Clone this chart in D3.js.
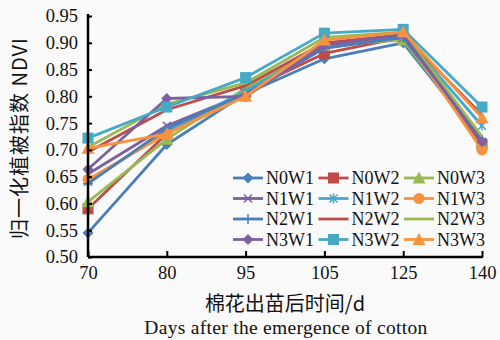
<!DOCTYPE html>
<html>
<head>
<meta charset="utf-8">
<script src="https://cdn.jsdelivr.net/npm/d3@7"></script>
<style>
  body { margin: 0; background: #fff; }
  svg { display: block; }
</style>
</head>
<body>
<svg id="chart" width="500" height="340"></svg>
<script>
// data
const days = ["70", "80", "95", "105", "125", "140"];
const yTicks = [0.50, 0.55, 0.60, 0.65, 0.70, 0.75, 0.80, 0.85, 0.90, 0.95];
const seriesNames = ["N0W1", "N0W2", "N0W3", "N1W1", "N1W2", "N1W3",
                     "N2W1", "N2W2", "N2W3", "N3W1", "N3W2", "N3W3"];
const N0W1 = [0.545, 0.710, 0.805, 0.870, 0.900, 0.715];
const N0W2 = [0.590, 0.730, 0.810, 0.880, 0.910, 0.710];
const N0W3 = [0.603, 0.720, 0.815, 0.895, 0.905, 0.715];
const N1W1 = [0.655, 0.745, 0.805, 0.890, 0.910, 0.715];
const N1W2 = [0.640, 0.735, 0.810, 0.895, 0.915, 0.745];
const N1W3 = [0.645, 0.730, 0.800, 0.895, 0.915, 0.700];
const N2W1 = [0.637, 0.740, 0.805, 0.890, 0.910, 0.720];
const N2W2 = [0.696, 0.775, 0.820, 0.900, 0.915, 0.765];
const N2W3 = [0.705, 0.785, 0.825, 0.910, 0.920, 0.725];
const N3W1 = [0.664, 0.796, 0.800, 0.895, 0.915, 0.715];
const N3W2 = [0.722, 0.780, 0.835, 0.918, 0.925, 0.780];
const N3W3 = [0.703, 0.730, 0.800, 0.905, 0.920, 0.760];
const seriesValues = [N0W1, N0W2, N0W3, N1W1, N1W2, N1W3, N2W1, N2W2, N2W3, N3W1, N3W2, N3W3];

const colors = ["#4a7ebb", "#be4b48", "#98b954", "#7d60a0", "#46aac5", "#f69240",
                "#4a7ebb", "#be4b48", "#98b954", "#7d60a0", "#46aac5", "#f69240"];
const markers = ["diamond", "square", "triangle", "x", "star", "circle",
                 "plus", "none", "none", "diamond", "square", "triangle"];

const SERIF = '"Liberation Serif", "DejaVu Serif", serif';
const CJK = '"Noto Sans CJK SC", sans-serif';

const svg = d3.select("#chart");
svg.append("rect").attr("width", 500).attr("height", 340).attr("fill", "#fafafa");

const x = d3.scalePoint().domain(days).range([88, 482]);
const y = d3.scaleLinear().domain([0.5, 0.95]).range([257, 16]);

// marker drawing
function drawMarker(g, type, cx, cy, color) {
  const s = 5.5;
  if (type === "diamond") {
    g.append("path").attr("d", `M${cx},${cy - s}L${cx + s},${cy}L${cx},${cy + s}L${cx - s},${cy}Z`).attr("fill", color);
  } else if (type === "square") {
    g.append("rect").attr("x", cx - s).attr("y", cy - s).attr("width", 2 * s).attr("height", 2 * s).attr("fill", color);
  } else if (type === "triangle") {
    g.append("path").attr("d", `M${cx},${cy - s - 1}L${cx + s + 1},${cy + s}L${cx - s - 1},${cy + s}Z`).attr("fill", color);
  } else if (type === "circle") {
    g.append("circle").attr("cx", cx).attr("cy", cy).attr("r", s).attr("fill", color);
  } else if (type === "x") {
    g.append("path").attr("d", `M${cx - 4},${cy - 4}L${cx + 4},${cy + 4}M${cx - 4},${cy + 4}L${cx + 4},${cy - 4}`)
      .attr("stroke", color).attr("stroke-width", 1.5);
  } else if (type === "star") {
    g.append("path").attr("d", `M${cx - 4},${cy - 4}L${cx + 4},${cy + 4}M${cx - 4},${cy + 4}L${cx + 4},${cy - 4}M${cx},${cy - 5}L${cx},${cy + 5}`)
      .attr("stroke", color).attr("stroke-width", 1.5);
  } else if (type === "plus") {
    g.append("path").attr("d", `M${cx - 5},${cy}L${cx + 5},${cy}M${cx},${cy - 5}L${cx},${cy + 5}`)
      .attr("stroke", color).attr("stroke-width", 1.5);
  }
}

// series
const line = d3.line().x((d, i) => x(days[i])).y(d => y(d));
seriesValues.forEach((vals, k) => {
  const g = svg.append("g");
  g.append("path").attr("d", line(vals)).attr("fill", "none")
    .attr("stroke", colors[k]).attr("stroke-width", 2.8).attr("stroke-linejoin", "round");
  vals.forEach((v, i) => drawMarker(g, markers[k], x(days[i]), y(v), colors[k]));
});

// axes
const yAxis = svg.append("g").attr("transform", "translate(88,0)")
  .call(d3.axisLeft(y).tickValues(yTicks).tickFormat(d3.format(".2f")).tickSizeInner(-4).tickSizeOuter(0).tickPadding(10));
const xAxis = svg.append("g").attr("transform", "translate(0,257)")
  .call(d3.axisBottom(x).tickSizeInner(-6).tickSizeOuter(0).tickPadding(10));
[yAxis, xAxis].forEach(a => {
  a.select(".domain").attr("stroke", "#000").attr("stroke-width", 2.5);
  a.selectAll(".tick line").attr("stroke", "#000").attr("stroke-width", 2);
  a.selectAll("text").style("font-family", SERIF).style("font-size", "18.5px").attr("fill", "#111");
});
yAxis.select(".domain").attr("d", "M0,257V14");
xAxis.select(".domain").attr("d", "M88,0H483");
xAxis.selectAll("text").attr("y", 9);

// axis titles
svg.append("text").attr("x", 285).attr("y", 311).attr("text-anchor", "middle")
  .style("font-family", CJK).style("font-size", "20px").attr("fill", "#111")
  .text("棉花出苗后时间/d");
svg.append("text").attr("x", 286).attr("y", 334).attr("text-anchor", "middle")
  .style("font-family", SERIF).style("font-size", "19.5px").style("letter-spacing", "0.3px").attr("fill", "#111")
  .text("Days after the emergence of cotton");
svg.append("text").attr("transform", "translate(27,138) rotate(-90)").attr("text-anchor", "middle")
  .style("font-family", CJK).style("font-size", "20px").style("letter-spacing", "1px").attr("fill", "#111")
  .text("归一化植被指数 NDVI");

// legend
const legend = svg.append("g");
seriesNames.forEach((name, k) => {
  const col = k % 3, row = Math.floor(k / 3);
  const lx = 233 + col * 85.5, ly = 178 + row * 20.5;
  legend.append("line").attr("x1", lx).attr("x2", lx + 30).attr("y1", ly).attr("y2", ly)
    .attr("stroke", colors[k]).attr("stroke-width", 2.8);
  drawMarker(legend, markers[k], lx + 15, ly, colors[k]);
  legend.append("text").attr("x", lx + 33).attr("y", ly + 6)
    .style("font-family", SERIF).style("font-size", "18px").attr("fill", "#111").text(name);
});
</script>
</body>
</html>
